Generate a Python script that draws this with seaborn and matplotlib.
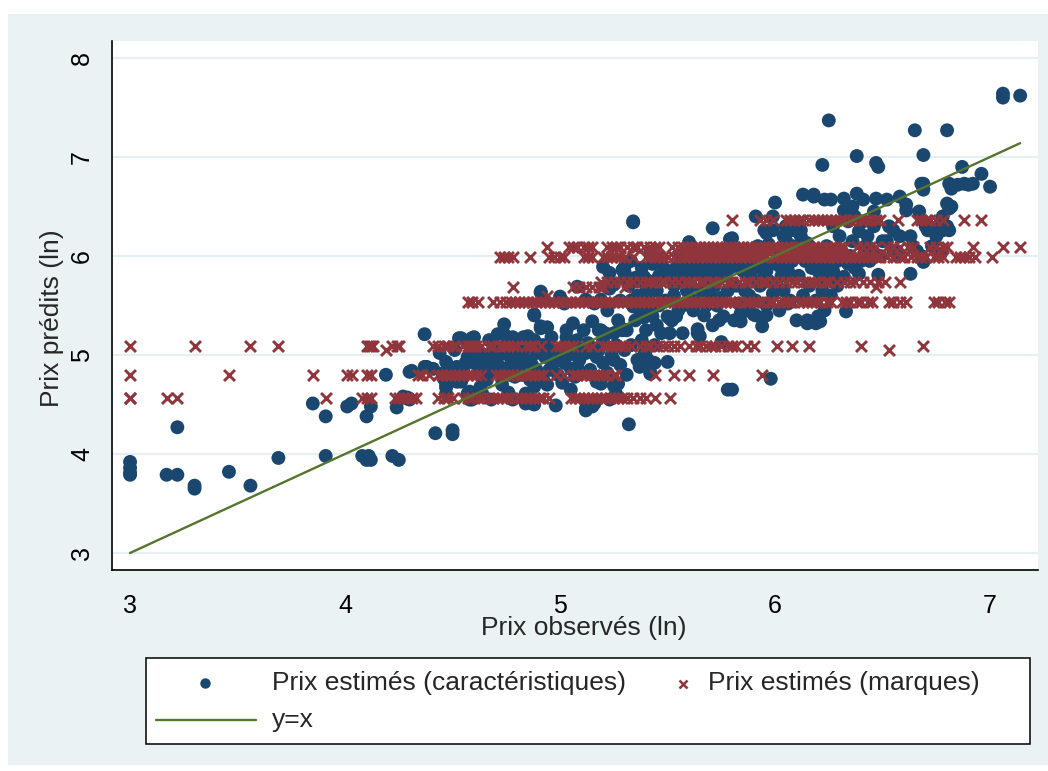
import numpy as np
import pandas as pd
import matplotlib
matplotlib.use("Agg")
import matplotlib.pyplot as plt
import seaborn as sns
from matplotlib.patches import Rectangle
from matplotlib.lines import Line2D

# Stata s2color look
NAVY = "#1a476f"
MAROON = "#90353b"
GREEN = "#55752f"
BG = "#eaf2f3"
GRID = "#e6eff1"

char_left = [(3.00, 3.92), (3.00, 3.86), (3.00, 3.81), (3.00, 3.79), (3.17, 3.79), (3.22, 3.79),
             (3.22, 4.27), (3.30, 3.68), (3.30, 3.65), (3.46, 3.82), (3.56, 3.68), (3.69, 3.96),
             (3.85, 4.51), (3.91, 4.38), (3.91, 3.98), (4.01, 4.48), (4.03, 4.51), (4.10, 4.38),
             (4.12, 4.48), (4.08, 3.98), (4.10, 3.94), (4.12, 3.94), (4.11, 3.98), (4.19, 4.80),
             (4.24, 4.47), (4.22, 3.98), (4.25, 3.94)]
char_low = [(4.29, 4.57), (4.30, 4.55), (4.31, 4.84), (4.37, 4.88), (4.41, 4.86), (4.37, 5.21),
            (4.42, 4.21), (4.50, 4.24), (4.50, 4.20), (4.44, 5.02), (4.47, 4.93), (4.46, 4.76),
            (4.47, 4.67), (4.27, 4.58), (4.29, 4.56), (4.30, 4.83), (4.38, 4.88),
            (4.53, 5.17), (4.59, 5.17), (4.51, 5.05), (4.57, 4.98), (4.60, 5.02), (4.56, 4.92),
            (4.60, 4.92), (4.50, 4.80), (4.52, 4.73), (4.58, 4.63), (4.59, 4.55), (4.46, 4.82),
            (4.49, 4.82), (4.51, 4.77), (4.54, 4.73), (4.47, 4.70), (4.47, 4.61), (4.57, 4.61),
            (4.58, 4.55), (4.54, 5.17), (4.60, 5.18), (4.55, 4.85), (4.49, 4.87), (4.52, 4.88),
            (4.61, 4.95), (4.64, 4.91), (4.67, 4.90), (4.63, 4.85), (4.61, 4.92), (4.67, 5.15),
            (4.69, 5.08), (4.62, 5.05), (4.65, 5.00), (4.68, 4.82), (4.66, 4.75), (4.63, 4.68),
            (4.70, 4.95), (4.64, 4.60), (4.68, 4.55), (4.70, 5.02),
            (4.71, 4.98), (4.72, 4.88), (4.74, 4.82), (4.74, 5.31), (4.71, 5.21), (4.74, 5.21),
            (4.75, 5.10), (4.76, 5.00), (4.78, 4.95), (4.77, 4.90), (4.73, 4.70), (4.78, 5.18),
            (4.76, 4.62), (4.79, 4.78), (4.80, 5.05), (4.78, 4.55),
            (4.83, 5.18), (4.87, 5.15), (4.85, 5.19), (4.88, 5.15), (4.85, 5.08), (4.82, 5.00),
            (4.84, 4.95), (4.87, 4.90), (4.81, 4.87), (4.89, 5.02), (4.88, 4.68), (4.86, 4.58),
            (4.84, 4.51), (4.88, 4.50), (4.84, 4.61), (4.87, 4.51), (4.88, 5.41), (4.82, 4.80),
            (4.86, 4.75), (4.89, 4.85)]
char_mid = [(4.91, 5.63), (4.91, 5.64), (4.88, 5.40), (4.91, 5.29), (4.94, 5.28), (4.91, 5.27),
            (4.92, 5.10), (4.95, 5.05), (4.93, 4.98), (4.97, 4.92), (4.95, 4.85), (4.99, 4.80),
            (4.92, 4.76), (4.98, 4.49), (4.96, 5.18), (4.94, 4.70), (5.00, 5.00),
            (5.00, 5.59), (5.02, 5.52), (5.03, 5.18), (5.06, 5.32), (5.06, 5.10), (5.08, 5.15),
            (5.09, 5.08), (5.08, 5.69), (5.04, 5.00), (5.02, 4.92), (5.05, 4.86), (5.07, 4.78),
            (5.09, 4.95), (5.01, 4.72), (5.05, 4.65), (5.08, 4.88), (5.10, 5.02), (5.03, 5.25),
            (5.12, 4.46), (5.15, 4.48), (5.11, 5.25), (5.15, 5.34), (5.18, 5.25), (5.12, 5.56),
            (5.16, 5.52), (5.19, 5.56), (5.12, 5.02), (5.17, 4.98), (5.20, 4.92), (5.17, 4.73),
            (5.16, 4.51), (5.12, 4.44), (5.19, 4.71), (5.14, 4.85), (5.13, 5.12), (5.18, 5.05),
            (5.15, 4.80), (5.20, 5.15),
            (5.22, 4.82), (5.23, 4.55), (5.26, 4.61), (5.25, 4.69), (5.27, 4.71), (5.23, 5.70),
            (5.25, 5.71), (5.23, 5.67), (5.27, 5.35), (5.28, 5.28), (5.29, 5.86), (5.30, 5.79),
            (5.30, 5.89), (5.30, 5.84), (5.26, 5.10), (5.24, 5.00), (5.28, 4.90), (5.21, 5.22),
            (5.22, 5.45), (5.28, 5.55), (5.29, 5.25), (5.25, 4.95), (5.30, 5.05), (5.20, 5.89),
            (5.23, 5.83), (5.19, 5.25), (5.20, 5.22), (5.25, 5.22),
            (5.34, 6.34), (5.32, 4.30), (5.34, 6.35), (5.37, 5.46), (5.39, 5.79), (5.40, 5.69),
            (5.39, 5.38), (5.40, 5.25), (5.34, 5.49), (5.31, 5.25), (5.31, 4.80), (5.38, 5.15),
            (5.40, 5.08), (5.39, 5.00), (5.33, 5.10), (5.35, 5.35), (5.36, 5.60), (5.32, 5.70),
            (5.35, 5.78), (5.38, 5.88), (5.33, 5.95), (5.36, 4.95), (5.37, 4.88), (5.33, 5.55),
            (5.40, 5.59), (5.40, 5.54),
            (5.42, 6.03), (5.41, 5.59), (5.40, 5.45), (5.43, 5.39), (5.42, 5.45), (5.42, 4.81),
            (5.44, 4.92), (5.41, 4.95), (5.42, 4.82), (5.40, 5.05), (5.40, 4.93), (5.45, 5.30),
            (5.47, 5.22), (5.44, 5.70), (5.46, 5.80), (5.48, 5.88), (5.43, 5.92), (5.45, 5.65),
            (5.49, 5.55), (5.47, 5.98), (5.50, 5.85), (5.41, 5.75), (5.46, 5.50), (5.44, 5.10)]
char_upper = [(5.50, 5.39), (5.51, 5.37), (5.51, 5.22), (5.54, 5.39), (5.50, 4.93), (5.52, 5.35),
              (5.57, 5.22), (5.60, 6.14), (5.60, 6.11), (5.55, 5.90), (5.58, 5.85), (5.52, 5.80),
              (5.56, 5.75), (5.59, 5.65), (5.53, 5.60), (5.57, 5.50), (5.55, 5.45), (5.58, 5.95),
              (5.54, 5.88), (5.60, 5.82), (5.56, 6.00), (5.53, 5.70),
              (5.64, 5.22), (5.64, 5.26), (5.65, 5.19), (5.62, 5.90), (5.65, 5.85), (5.68, 5.88),
              (5.66, 5.80), (5.63, 5.92), (5.67, 5.95), (5.69, 5.82), (5.61, 5.70), (5.66, 5.65),
              (5.70, 5.60), (5.68, 5.50), (5.62, 5.45), (5.67, 5.40), (5.69, 5.75), (5.64, 6.00),
              (5.70, 5.90), (5.62, 5.55),
              (5.71, 6.28), (5.71, 5.30), (5.74, 5.35), (5.75, 5.13), (5.76, 5.39), (5.72, 5.88),
              (5.75, 5.85), (5.78, 5.92), (5.73, 5.95), (5.77, 5.80), (5.74, 5.78), (5.79, 5.88),
              (5.72, 5.70), (5.78, 5.65), (5.75, 5.58), (5.79, 6.17), (5.80, 6.18), (5.78, 4.65),
              (5.80, 4.65), (5.76, 6.02), (5.73, 5.50),
              (5.81, 5.35), (5.84, 5.34), (5.84, 5.42), (5.82, 5.90), (5.85, 5.85), (5.88, 5.88),
              (5.83, 5.95), (5.87, 5.80), (5.86, 5.92), (5.89, 5.78), (5.82, 5.70), (5.86, 5.65),
              (5.88, 5.60), (5.83, 5.52), (5.85, 6.05), (5.89, 6.00), (5.87, 5.45),
              (5.91, 6.40), (5.91, 5.40), (5.90, 5.41), (5.96, 5.40), (5.94, 5.29), (5.95, 6.26),
              (5.96, 6.23), (5.99, 6.26), (5.99, 6.40), (5.93, 5.88), (5.96, 5.85), (5.98, 5.92),
              (5.92, 5.95), (5.95, 5.80), (5.97, 5.75), (5.93, 5.70), (5.99, 5.62), (5.91, 5.55),
              (5.96, 5.50), (5.98, 4.76), (5.94, 6.05), (5.92, 6.10), (5.97, 6.12)]
char_high = [(6.00, 6.54), (6.04, 6.20), (6.05, 6.30), (6.07, 6.26), (6.05, 6.16), (6.02, 5.90),
             (6.06, 5.85), (6.08, 5.95), (6.03, 5.80), (6.09, 5.78), (6.01, 5.70), (6.04, 5.65),
             (6.07, 5.55), (6.10, 5.35), (6.02, 5.45), (6.06, 5.52), (6.09, 6.26), (6.10, 6.00),
             (6.03, 6.05), (6.08, 6.10),
             (6.12, 6.20), (6.15, 6.13), (6.13, 6.62), (6.18, 6.62), (6.15, 5.32), (6.19, 5.32),
             (6.15, 5.35), (6.12, 6.26), (6.18, 6.60), (6.19, 5.92), (6.20, 5.85), (6.22, 5.76),
             (6.14, 5.95), (6.17, 5.88), (6.11, 5.80), (6.16, 5.70), (6.13, 5.60), (6.19, 5.55),
             (6.15, 6.05), (6.12, 6.10), (6.20, 5.39), (6.21, 5.34), (6.20, 6.00),
             (6.22, 6.92), (6.25, 7.37), (6.23, 6.57), (6.26, 6.57), (6.23, 5.45), (6.24, 5.90),
             (6.27, 5.85), (6.29, 5.95), (6.25, 5.80), (6.28, 5.75), (6.22, 5.65), (6.26, 5.60),
             (6.28, 6.05), (6.30, 6.20), (6.24, 6.10), (6.27, 6.30), (6.29, 5.70),
             (6.32, 6.58), (6.33, 5.44), (6.32, 5.79), (6.32, 6.46), (6.36, 6.50), (6.38, 6.63),
             (6.38, 7.01), (6.39, 5.82), (6.34, 5.92), (6.37, 5.88), (6.35, 6.00), (6.31, 6.05),
             (6.36, 6.15), (6.39, 6.25), (6.34, 6.35), (6.37, 6.40), (6.40, 5.95),
             (6.41, 6.57), (6.47, 6.58), (6.47, 6.94), (6.48, 6.90), (6.48, 5.81), (6.42, 6.10),
             (6.45, 6.05), (6.43, 6.20), (6.46, 6.30), (6.44, 5.95), (6.49, 6.00), (6.41, 6.35),
             (6.46, 6.45), (6.50, 6.15),
             (6.52, 6.57), (6.58, 6.60), (6.53, 6.30), (6.55, 6.26), (6.58, 6.20), (6.61, 6.46),
             (6.61, 6.52), (6.55, 6.05), (6.57, 6.00), (6.52, 6.15),
             (6.63, 6.20), (6.63, 5.82), (6.65, 7.27), (6.67, 6.45), (6.68, 6.73), (6.69, 6.73),
             (6.69, 6.67), (6.69, 7.02), (6.70, 6.30), (6.71, 6.26), (6.69, 5.94), (6.66, 6.05),
             (6.64, 6.10), (6.68, 6.00),
             (6.75, 6.20), (6.78, 6.26), (6.76, 6.30), (6.78, 6.40), (6.80, 6.53), (6.80, 6.30),
             (6.80, 7.27), (6.73, 6.10), (6.77, 6.02),
             (6.81, 6.48), (6.82, 6.50), (6.81, 6.73), (6.82, 6.70), (6.82, 6.68), (6.81, 6.26),
             (6.88, 6.73), (6.87, 6.90), (6.92, 6.73), (6.96, 6.83), (7.00, 6.70), (7.06, 7.64),
             (7.06, 7.60), (7.14, 7.62), (6.85, 6.72), (6.90, 6.72)]

# Prix estimés (marques): brand-level predictions sit on a few horizontal rows
marq_457 = [3.00, 3.00, 3.17, 3.22, 3.91, 4.08, 4.10, 4.12, 4.23, 4.25, 4.27, 4.29, 4.31, 4.33,
            4.43, 4.46, 4.48, 4.50, 4.55, 4.57, 4.59, 4.62, 4.64, 4.67, 4.69, 4.71, 4.73, 4.75,
            4.77, 4.80, 4.82, 4.84, 4.86, 4.88, 4.90, 4.92, 4.95, 5.05, 5.07, 5.09, 5.11, 5.13,
            5.15, 5.17, 5.19, 5.21, 5.23, 5.25, 5.27, 5.29, 5.31, 5.34, 5.37, 5.40, 5.44, 5.51]
marq_480 = [3.00, 3.46, 3.85, 4.01, 4.03, 4.10, 4.12, 4.34, 4.36, 4.39, 4.43, 4.45, 4.47, 4.49,
            4.51, 4.53, 4.55, 4.57, 4.59, 4.61, 4.63, 4.70, 4.72, 4.74, 4.76, 4.78, 4.80, 4.82,
            4.84, 4.86, 4.88, 4.90, 4.92, 4.98, 5.02, 5.06, 5.08, 5.10, 5.12, 5.14, 5.16, 5.18,
            5.20, 5.22, 5.25, 5.26, 5.44, 5.53, 5.60, 5.71, 5.94]
marq_509 = [3.00, 3.30, 3.56, 3.69, 4.10, 4.11, 4.12, 4.13, 4.22, 4.24, 4.25, 4.41, 4.43, 4.46,
            4.48, 4.50, 4.51, 4.55, 4.57, 4.58, 4.60, 4.61, 4.63, 4.67, 4.69, 4.72, 4.74, 4.76,
            4.78, 4.80, 4.84, 4.86, 4.88, 4.91, 4.98, 5.00, 5.02, 5.04, 5.06, 5.12, 5.15, 5.20,
            5.22, 5.24, 5.26, 5.28, 5.30, 5.33, 5.37, 5.40, 5.42, 5.45, 5.48, 5.50, 5.53, 5.56,
            5.60, 5.63, 5.65, 5.68, 5.70, 5.72, 5.75, 5.78, 5.80, 5.82, 5.87, 5.90, 6.01, 6.08,
            6.16, 6.40, 6.69]
marq_554 = [4.57, 4.59, 4.62, 4.69, 4.72, 4.75, 4.77, 4.79, 4.81, 4.83, 4.85, 4.87, 4.89, 4.91,
            4.93, 4.95, 4.97, 4.99, 5.01, 5.03, 5.05, 5.07, 5.09, 5.11, 5.13, 5.15, 5.17, 5.19,
            5.21, 5.23, 5.25, 5.27, 5.29, 5.31, 5.33, 5.35, 5.37, 5.39, 5.41, 5.43, 5.45, 5.47,
            5.49, 5.51, 5.53, 5.55, 5.57, 5.59, 5.61, 5.63, 5.65, 5.67, 5.69, 5.71, 5.73, 5.75,
            5.77, 5.79, 5.81, 5.83, 5.86, 5.88, 5.90, 5.92, 5.94, 5.97, 5.99, 6.02, 6.04, 6.06,
            6.08, 6.11, 6.13, 6.15, 6.17, 6.19, 6.21, 6.24, 6.26, 6.31, 6.33, 6.35, 6.38, 6.40,
            6.43, 6.45, 6.53, 6.55, 6.58, 6.61, 6.74, 6.76, 6.79, 6.81]
marq_569 = [4.78, 5.06, 5.09, 5.12, 5.15, 5.18, 5.20, 5.30, 6.47]
marq_574 = [5.19, 5.22, 5.25, 5.28, 5.31, 5.34, 5.37, 5.40, 5.42, 5.44, 5.47, 5.49, 5.52, 5.55,
            5.58, 5.60, 5.62, 5.65, 5.67, 5.70, 5.72, 5.75, 5.78, 5.80, 5.83, 5.86, 5.88, 5.91,
            5.94, 5.96, 5.99, 6.02, 6.05, 6.08, 6.10, 6.13, 6.16, 6.18, 6.20, 6.23, 6.25, 6.29,
            6.32, 6.35, 6.37, 6.41, 6.44, 6.48, 6.51, 6.58]
marq_599 = [4.72, 4.74, 4.76, 4.78, 4.86, 4.95, 4.97, 5.00, 5.02, 5.11, 5.13, 5.15, 5.20, 5.22,
            5.24, 5.26, 5.28, 5.30, 5.34, 5.40, 5.42, 5.44, 5.46, 5.48, 5.50, 5.53, 5.56, 5.58,
            5.60, 5.62, 5.64, 5.66, 5.68, 5.70, 5.72, 5.74, 5.76, 5.78, 5.80, 5.82, 5.84, 5.86,
            5.88, 5.90, 5.92, 5.94, 5.96, 5.99, 6.01, 6.03, 6.05, 6.07, 6.09, 6.11, 6.13, 6.15,
            6.17, 6.19, 6.21, 6.23, 6.25, 6.27, 6.29, 6.31, 6.33, 6.35, 6.37, 6.39, 6.41, 6.43,
            6.45, 6.47, 6.49, 6.52, 6.55, 6.58, 6.60, 6.63, 6.66, 6.68, 6.70, 6.74, 6.76, 6.78,
            6.84, 6.86, 6.88, 6.90, 6.93, 7.01]
marq_609 = [4.94, 5.04, 5.06, 5.08, 5.11, 5.13, 5.15, 5.22, 5.24, 5.26, 5.28, 5.31, 5.34, 5.36,
            5.39, 5.42, 5.44, 5.46, 5.52, 5.55, 5.57, 5.59, 5.61, 5.63, 5.65, 5.67, 5.69, 5.71,
            5.73, 5.75, 5.77, 5.79, 5.81, 5.83, 5.85, 5.87, 5.89, 5.91, 5.93, 5.95, 5.97, 5.99,
            6.01, 6.03, 6.05, 6.07, 6.10, 6.12, 6.14, 6.16, 6.18, 6.20, 6.22, 6.24, 6.26, 6.28,
            6.30, 6.32, 6.38, 6.41, 6.44, 6.47, 6.52, 6.55, 6.58, 6.62, 6.64, 6.72, 6.75, 6.78,
            6.80, 6.92, 7.06, 7.14]
marq_636 = [5.80, 5.93, 5.96, 5.99, 6.05, 6.07, 6.09, 6.11, 6.13, 6.16, 6.18, 6.20, 6.22, 6.24,
            6.26, 6.28, 6.30, 6.32, 6.35, 6.37, 6.40, 6.42, 6.44, 6.47, 6.49, 6.57, 6.66, 6.68,
            6.70, 6.72, 6.75, 6.78, 6.88, 6.96]
marq_rows = [(4.57, marq_457), (4.80, marq_480), (5.09, marq_509), (5.54, marq_554),
             (5.69, marq_569), (5.74, marq_574), (5.99, marq_599), (6.09, marq_609), (6.36, marq_636)]
marq_extra = [(4.19, 5.05), (6.53, 5.05), (4.94, 5.60)]

char = pd.DataFrame(char_left + char_low + char_mid + char_upper + char_high, columns=["obs", "pred"])
marq = pd.DataFrame([(x, lvl) for lvl, xs in marq_rows for x in xs] + marq_extra, columns=["obs", "pred"])
diag_x = [char["obs"].min(), char["obs"].max()]

W, H = 1048, 771
sns.set_style("white")
plt.rcParams["font.family"] = ["Liberation Sans", "DejaVu Sans"]

fig = plt.figure(figsize=(W / 100, H / 100), dpi=100)
fig.patch.set_facecolor("white")
fig.patches.append(Rectangle((8 / W, 1 - 765 / H), 1 - 8 / W, (765 - 14) / H,
                             transform=fig.transFigure, facecolor=BG, edgecolor="none", zorder=-5))

ax = fig.add_axes([112 / W, 1 - 570 / H, 926 / W, 529 / H])
ax.set_facecolor("white")

sns.scatterplot(data=char, x="obs", y="pred", color=NAVY, s=100, edgecolor="none",
                ax=ax, legend=False, zorder=3)
sns.scatterplot(data=marq, x="obs", y="pred", color=MAROON, marker="x", s=62, linewidth=2.1,
                ax=ax, legend=False, zorder=4)
ax.plot(diag_x, diag_x, color=GREEN, lw=1.7, zorder=5)

ax.set_xlim(2.916, 7.223)
ax.set_ylim(2.828, 8.172)
ax.set_xticks([3, 4, 5, 6, 7])
ax.set_yticks([3, 4, 5, 6, 7, 8])
ax.yaxis.grid(True, color=GRID, lw=1.6, zorder=0)
ax.xaxis.grid(False)
ax.set_axisbelow(True)

for side in ["top", "right"]:
    ax.spines[side].set_visible(False)
for side in ["left", "bottom"]:
    ax.spines[side].set_color("black")
    ax.spines[side].set_linewidth(1.2)

ax.tick_params(axis="both", direction="out", length=7, width=1.1, color="black",
               labelsize=18, labelcolor="black")
ax.tick_params(axis="x", pad=10)
ax.tick_params(axis="y", pad=6)
for lab in ax.get_yticklabels():
    lab.set_rotation(90)
    lab.set_va("center")

ax.set_xlabel("Prix observés (ln)", fontsize=19)
ax.set_ylabel("Prix prédits (ln)", fontsize=19)
ax.xaxis.set_label_coords(0.509, -0.11)
ax.xaxis.label.set_va("center")
ax.yaxis.set_label_coords(-0.065, 0.476)
ax.yaxis.label.set_va("center")

# legend box drawn by hand, Stata style
def fx(px):
    return px / W

def fy(py):
    return 1 - py / H

fig.patches.append(Rectangle((fx(146), fy(744)), fx(1030) - fx(146), fy(658) - fy(744),
                             transform=fig.transFigure, facecolor="white",
                             edgecolor="black", lw=1.1, zorder=2))
fig.lines.append(Line2D([fx(205)], [fy(683)], transform=fig.transFigure, marker="o",
                        ms=7.5, color=NAVY, mec="none", ls="none", zorder=3))
fig.lines.append(Line2D([fx(683)], [fy(684)], transform=fig.transFigure, marker="x",
                        ms=6, mew=1.8, color=MAROON, ls="none", zorder=3))
fig.lines.append(Line2D([fx(156), fx(256)], [fy(720), fy(720)], transform=fig.transFigure,
                        color=GREEN, lw=1.7, zorder=3))
fig.text(fx(272), fy(683), "Prix estimés (caractéristiques)", fontsize=19, va="center", ha="left")
fig.text(fx(708), fy(683), "Prix estimés (marques)", fontsize=19, va="center", ha="left")
fig.text(fx(272), fy(720), "y=x", fontsize=19, va="center", ha="left")

fig.savefig("out.png", dpi=100, facecolor=fig.get_facecolor())
